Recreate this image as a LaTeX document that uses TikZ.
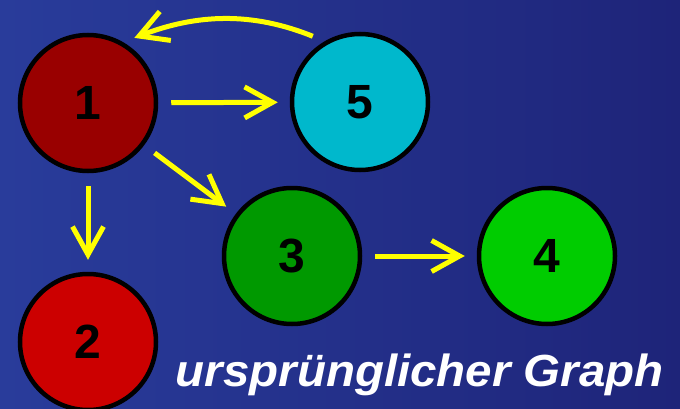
\documentclass[tikz,border=0pt]{standalone}
\usepackage{fontspec}
\setsansfont{Liberation Sans}
\usepackage{xcolor}
\usepackage{tikz}
\usetikzlibrary{arrows.meta,positioning}
\definecolor{bgLeft}{HTML}{293C9B}
\definecolor{bgRight}{HTML}{1E2479}
\definecolor{knotA}{HTML}{990000}
\definecolor{knotB}{HTML}{CC0000}
\definecolor{knotC}{HTML}{009900}
\definecolor{knotD}{HTML}{00CC00}
\definecolor{knotE}{HTML}{00B8CC}
\definecolor{edgeYel}{HTML}{FFFF00}

\begin{document}
\begin{tikzpicture}[
  x=1pt, y=1pt,
  every node/.style={font=\sffamily\bfseries},
  knot/.style={circle, draw=black, line width=4.5pt, minimum size=136pt, inner sep=0pt,
               font=\sffamily\bfseries\fontsize{48}{48}\selectfont},
  arrow/.style={-{Straight Barb[length=28pt, width=31pt, sharp]}, line width=5pt,
                color=edgeYel, shorten <=13pt, shorten >=12pt}
]
  \shade[left color=bgLeft, right color=bgRight] (0,0) rectangle (680,408);
  \useasboundingbox (0,0) rectangle (680,408);

  \node[knot, fill=knotA] (n1) at (88,305) {1};
  \node[knot, fill=knotE] (n5) at (360,306) {5};
  \node[knot, fill=knotC] (n3) at (292,152) {3};
  \node[knot, fill=knotD] (n4) at (547,152) {4};
  \node[knot, fill=knotB] (n2) at (88,66) {2};

  \draw[arrow] (n1) -- (n5);
  \draw[arrow] (n1) -- (n3);
  \draw[arrow] (n1) -- (n2);
  \draw[arrow] (n3) -- (n4);
  \draw[arrow] (n5.120) to[out=158, in=21] (n1.60);

  \node[anchor=base east, text=white, inner sep=0pt, xscale=1.055,
        font=\sffamily\bfseries\itshape\fontsize{45}{45}\selectfont] (title) at (664,22)
        {ursprünglicher Graph};
\end{tikzpicture}
\end{document}
